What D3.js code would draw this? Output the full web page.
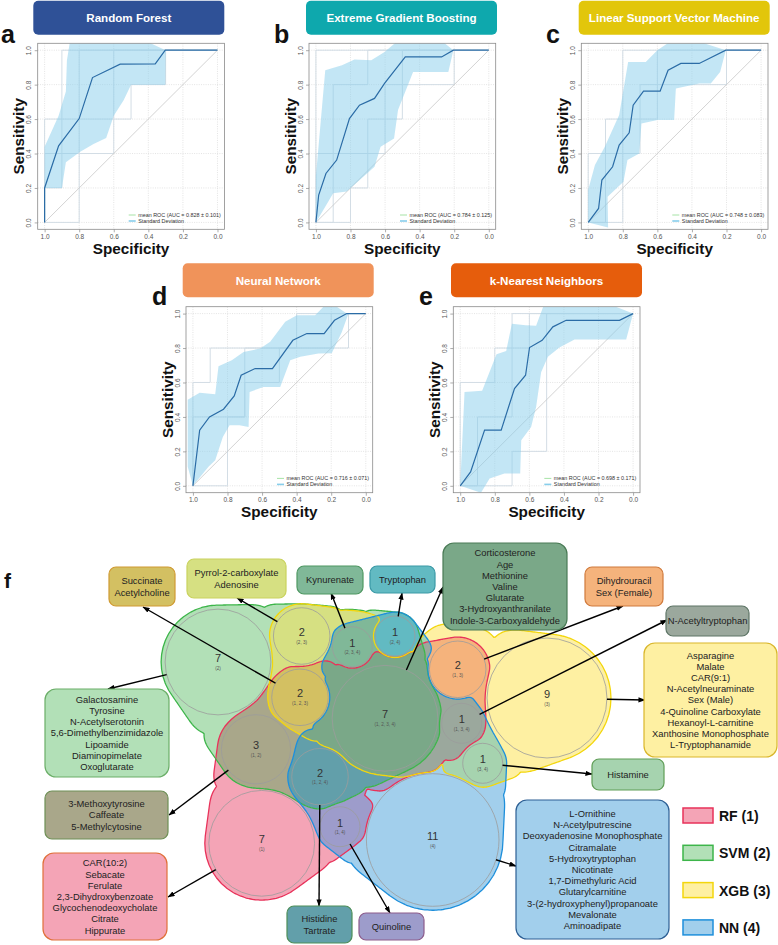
<!DOCTYPE html>
<html>
<head>
<meta charset="utf-8">
<script src="https://cdn.jsdelivr.net/npm/d3@7"></script>
<style>
  body { margin: 0; background: #fff; }
  svg { font-family: "Liberation Sans", Arial, sans-serif; }
</style>
</head>
<body>
<div id="chart"></div>
<script>
// ---------- ROC data (specificity, sensitivity) ----------
const modelNames = ['Random Forest', 'Extreme Gradient Boosting', 'Linear Support Vector Machine', 'Neural Network', 'k-Nearest Neighbors'];
const panelLetters = ['a', 'b', 'c', 'd', 'e'];
const aucLabels = ['0.828 ± 0.101', '0.784 ± 0.125', '0.748 ± 0.083', '0.716 ± 0.071', '0.698 ± 0.171'];
const axisTicks = [1.0, 0.8, 0.6, 0.4, 0.2, 0.0];

const rfMean = [[1,0],[1,0.2],[0.919,0.445],[0.80,0.603],[0.723,0.841],[0.563,0.919],[0.36,0.92],[0.302,1],[0,1]];
const rfUpper = [[1,0.44],[0.919,0.62],[0.877,0.76],[0.871,0.94],[0.852,1.06],[0.43,1.06],[0.30,1],[0,1]];
const rfLower = [[1,0],[1,0.2],[0.9,0.2],[0.877,0.35],[0.794,0.41],[0.717,0.455],[0.644,0.49],[0.60,0.62],[0.543,0.71],[0.50,0.80],[0.302,0.80],[0.30,1],[0,1]];
const rfFolds = [
  [[1,0],[1,0.2],[0.9,0.2],[0.9,1],[0,1]],
  [[1,0],[1,0.6],[0.5,0.6],[0.5,0.8],[0.3,0.8],[0.3,1],[0,1]],
  [[1,0],[1,0.4],[0.6,0.4],[0.6,1],[0,1]],
  [[1,0],[0.8,0],[0.8,1],[0,1]]
];

const xgbMean = [[1,0],[0.984,0.159],[0.942,0.284],[0.880,0.362],[0.806,0.603],[0.748,0.681],[0.661,0.72],[0.603,0.807],[0.483,0.961],[0.273,0.961],[0.205,1],[0,1]];
const xgbUpper = [[1,0.27],[0.946,0.884],[0.849,0.913],[0.777,0.946],[0.68,0.942],[0.603,0.99],[0.52,1.06],[0.28,1.06],[0.205,1],[0,1]];
const xgbLower = [[1,0],[0.9,0.17],[0.822,0.18],[0.661,0.323],[0.626,0.44],[0.548,0.487],[0.525,0.652],[0.438,0.874],[0.234,0.874],[0.205,1],[0,1]];
const xgbFolds = [
  [[1,0],[0.9,0],[0.9,0.8],[0.7,0.8],[0.7,1],[0,1]],
  [[1,0],[1,0.4],[0.6,0.4],[0.6,0.6],[0.5,0.6],[0.5,1],[0,1]],
  [[1,0],[0.8,0],[0.8,0.2],[0.7,0.2],[0.7,0.6],[0.6,0.6],[0.6,0.8],[0.2,0.8],[0.2,1],[0,1]],
  [[1,0],[1,1],[0,1]]
];

const svmMean = [[1,0],[0.94,0.081],[0.921,0.246],[0.859,0.323],[0.821,0.449],[0.763,0.52],[0.74,0.681],[0.68,0.762],[0.584,0.762],[0.538,0.884],[0.464,0.923],[0.358,0.923],[0.204,1],[0,1]];
const svmUpper = [[1,0.19],[0.961,0.333],[0.904,0.44],[0.821,0.623],[0.769,0.932],[0.667,0.932],[0.6,1],[0.54,1.04],[0.33,1.04],[0.204,1],[0,1]];
const svmLower = [[1,0],[0.885,-0.03],[0.888,0.149],[0.796,0.236],[0.773,0.362],[0.705,0.40],[0.692,0.574],[0.6,0.594],[0.503,0.594],[0.493,0.778],[0.358,0.807],[0.291,0.807],[0.237,0.874],[0.204,1],[0,1]];
const svmFolds = [
  [[1,0],[0.9,0],[0.9,0.6],[0.6,0.6],[0.6,1],[0,1]],
  [[1,0],[1,0.4],[0.7,0.4],[0.7,0.8],[0.2,0.8],[0.2,1],[0,1]],
  [[1,0],[0.8,0],[0.8,1],[0,1]]
];

const nnMean = [[1,0],[0.961,0.323],[0.904,0.40],[0.823,0.445],[0.761,0.522],[0.721,0.642],[0.64,0.681],[0.54,0.681],[0.422,0.845],[0.341,0.884],[0.241,0.884],[0.181,0.961],[0.11,1],[0,1]];
const nnUpper = [[1.03,0.5],[0.961,0.541],[0.871,0.532],[0.852,0.694],[0.775,0.729],[0.707,0.777],[0.611,0.797],[0.553,0.836],[0.466,0.952],[0.399,0.99],[0.293,0.99],[0.245,1.04],[0.168,1.04],[0.11,1],[0,1]];
const nnLower = [[1.03,0.11],[1,0],[0.91,0.11],[0.871,0.149],[0.827,0.284],[0.788,0.352],[0.73,0.352],[0.678,0.342],[0.672,0.545],[0.592,0.574],[0.495,0.574],[0.437,0.729],[0.379,0.749],[0.274,0.768],[0.197,0.77],[0.139,0.892],[0.1,1],[0,1]];
const nnFolds = [
  [[1,0],[1,0.6],[0.9,0.6],[0.9,0.8],[0.4,0.8],[0.4,1],[0,1]],
  [[1,0],[1,0.4],[0.7,0.4],[0.7,0.6],[0.5,0.6],[0.5,0.8],[0.1,0.8],[0.1,1],[0,1]],
  [[1,0],[0.8,0],[0.8,0.4],[0.7,0.4],[0.7,0.8],[0.2,0.8],[0.2,1],[0,1]]
];

const knnMean = [[1,0],[0.94,0.081],[0.859,0.323],[0.763,0.323],[0.686,0.565],[0.622,0.642],[0.599,0.803],[0.526,0.845],[0.464,0.923],[0.387,0.961],[0.079,0.961],[0,1]];
const knnUpper = [[1,0],[0.975,0.545],[0.873,0.552],[0.79,0.764],[0.734,0.783],[0.701,0.941],[0.622,0.932],[0.561,0.93],[0.52,1.04],[0.10,1.04],[0,1]];
const knnLower = [[1,0],[0.88,-0.04],[0.83,0.043],[0.744,0.072],[0.653,0.072],[0.647,0.265],[0.59,0.342],[0.561,0.458],[0.532,0.66],[0.493,0.749],[0.426,0.803],[0.339,0.849],[0.04,0.849],[0,1]];
const knnFolds = [
  [[1,0],[0.9,0],[0.9,0.4],[0.7,0.4],[0.7,1],[0,1]],
  [[1,0],[1,0.6],[0.8,0.6],[0.8,0.8],[0.6,0.8],[0.6,1],[0,1]],
  [[1,0],[0.7,0],[0.7,0.2],[0.5,0.2],[0.5,1],[0,1]]
];

// ---------- Venn data ----------
const setNames = ['RF (1)', 'SVM (2)', 'XGB (3)', 'NN (4)'];
const vennCombos = ['1', '2', '3', '4', '1, 2', '1, 3', '1, 4', '2, 3', '2, 4', '3, 4', '1, 2, 3', '1, 2, 4', '1, 3, 4', '2, 3, 4', '1, 2, 3, 4'];
const metabolites = {
  '1': ['CAR(10:2)', 'Sebacate', 'Ferulate', '2,3-Dihydroxybenzoate', 'Glycochenodeoxycholate', 'Citrate', 'Hippurate'],
  '2': ['Galactosamine', 'Tyrosine', 'N-Acetylserotonin', '5,6-Dimethylbenzimidazole', 'Lipoamide', 'Diaminopimelate', 'Oxoglutarate'],
  '3': ['Asparagine', 'Malate', 'CAR(9:1)', 'N-Acetylneuraminate', 'Sex (Male)', '4-Quinoline Carboxylate', 'Hexanoyl-L-carnitine', 'Xanthosine Monophosphate', 'L-Tryptophanamide'],
  '4': ['L-Ornithine', 'N-Acetylputrescine', 'Deoxyadenosine Monophosphate', 'Citramalate', '5-Hydroxytryptophan', 'Nicotinate', '1,7-Dimethyluric Acid', 'Glutarylcarnitine', '3-(2-hydroxyphenyl)propanoate', 'Mevalonate', 'Aminoadipate'],
  '1, 2': ['3-Methoxytyrosine', 'Caffeate', '5-Methylcytosine'],
  '1, 3': ['Dihydrouracil', 'Sex (Female)'],
  '1, 4': ['Quinoline'],
  '2, 3': ['Pyrrol-2-carboxylate', 'Adenosine'],
  '2, 4': ['Tryptophan'],
  '3, 4': ['Histamine'],
  '1, 2, 3': ['Succinate', 'Acetylcholine'],
  '1, 2, 4': ['Histidine', 'Tartrate'],
  '1, 3, 4': ['N-Acetyltryptophan'],
  '2, 3, 4': ['Kynurenate'],
  '1, 2, 3, 4': ['Corticosterone', 'Age', 'Methionine', 'Valine', 'Glutarate', '3-Hydroxyanthranilate', 'Indole-3-Carboxyaldehyde']
};

// ---------- layout & style ----------
const W = 778, H = 945;
const BW = 186.7, BH = 186;
const panelLayout = [
  { bx: 37.7, by: 43.3, tx: 33.3, ty: 0.7, lx: 1, ly: 43 },
  { bx: 309, by: 43.3, tx: 306, ty: 0.7, lx: 274, ly: 43 },
  { bx: 581.3, by: 43.3, tx: 578.7, ty: 0.7, lx: 546, ly: 43 },
  { bx: 186, by: 306.7, tx: 182.7, ty: 263.3, lx: 152, ly: 305 },
  { bx: 453.3, by: 306.7, tx: 451, ty: 263.3, lx: 419, ly: 305 }
];
const titleColors = ['#2F5197', '#0EA8AD', '#E2C60B', '#F0935A', '#E65D0C'];

// circle centres and boxes in venn-local units
const vennLayout = {
  '1': [121.7, 263.3], '2': [78, 82], '3': [407, 118], '4': [292.7, 260],
  '1, 2': [116, 169.3], '1, 3': [317.7, 89.3], '1, 4': [200, 246.7],
  '2, 3': [161.7, 56], '2, 4': [255, 56], '3, 4': [342.7, 183.3],
  '1, 2, 3': [160, 117.3], '1, 2, 4': [180, 196.7], '1, 3, 4': [321.7, 143.3],
  '2, 3, 4': [212.3, 66.7], '1, 2, 3, 4': [245, 138.3]
};
// [x, y, w, h, arrowX, arrowY]
const boxLayout = {
  '1, 2, 3': [-31, -13, 66, 39, 3, 27],
  '2, 3': [47, -21, 99, 39, 97, 18],
  '2, 3, 4': [157, -14, 66, 28, 191, 13],
  '2, 4': [230, -14, 65, 27, 262, 13],
  '1, 2, 3, 4': [303, -37, 124, 87, 303, 7],
  '1, 3': [445, -13, 78, 39, 483, 26],
  '1, 3, 4': [526, 26, 83, 30, 527, 40],
  '3': [504, 63, 133, 114, 505, 120],
  '2': [-95, 109, 124, 88, -32, 109],
  '1, 2': [-95, 211, 123, 48, 29, 235],
  '1': [-97, 273, 124, 87, 28, 317],
  '1, 2, 4': [147, 326, 65, 37, 179, 326],
  '1, 4': [219, 333, 65, 27, 250, 333],
  '3, 4': [452, 179, 72, 31, 452, 194],
  '4': [376, 220, 153, 139, 376, 286]
};
const comboFill = {
  '1': '#F4A4B6', '2': '#B2E0B7', '3': '#FEF0A2', '4': '#A2CFEC',
  '1, 2': '#A9A78A', '1, 3': '#F5B37C', '1, 4': '#9D9CCB', '2, 3': '#D6E082',
  '2, 4': '#62BAC2', '3, 4': '#A6D3AF', '1, 2, 3': '#D3C062', '1, 2, 4': '#629FAA',
  '1, 3, 4': '#9BA89D', '2, 3, 4': '#80B898', '1, 2, 3, 4': '#7AA888'
};
const boxStroke = {
  '1': '#E0703A', '2': '#6BAE68', '3': '#D9B62B', '4': '#2D5F94',
  '1, 2': '#6E9056', '1, 3': '#D07A3C', '1, 4': '#8D5C8C', '2, 3': '#C9D25E',
  '2, 4': '#3A99A6', '3, 4': '#5F9D56', '1, 2, 3': '#D09A32', '1, 2, 4': '#4E8F59',
  '1, 3, 4': '#5E7566', '2, 3, 4': '#4F9862', '1, 2, 3, 4': '#4A7B56'
};
const setStroke = ['#E8325A', '#3DB54A', '#F3D60C', '#1E8FDB'];
const setFill = ['#F4A4B6', '#B2E0B7', '#FEF0A2', '#A2CFEC'];

const svg = d3.select('#chart').append('svg').attr('width', W).attr('height', H);

// ---------- ROC panels ----------
const models = [
  { mean: rfMean, upper: rfUpper, lower: rfLower, folds: rfFolds },
  { mean: xgbMean, upper: xgbUpper, lower: xgbLower, folds: xgbFolds },
  { mean: svmMean, upper: svmUpper, lower: svmLower, folds: svmFolds },
  { mean: nnMean, upper: nnUpper, lower: nnLower, folds: nnFolds },
  { mean: knnMean, upper: knnUpper, lower: knnLower, folds: knnFolds }
];

models.forEach((m, i) => {
  const p = panelLayout[i];
  const g = svg.append('g');
  const x = d3.scaleLinear().domain([1.04, -0.04]).range([p.bx, p.bx + BW]);
  const y = d3.scaleLinear().domain([-0.04, 1.04]).range([p.by + BH, p.by]);
  const line = d3.line().x(d => x(d[0])).y(d => y(d[1]));

  // title box
  g.append('rect').attr('x', p.tx).attr('y', p.ty).attr('width', 191).attr('height', 34)
    .attr('rx', 5).attr('fill', titleColors[i]);
  g.append('text').attr('x', p.tx + 95.5).attr('y', p.ty + 21.3).attr('text-anchor', 'middle')
    .attr('fill', '#fff').attr('font-weight', 'bold').attr('font-size', 11.6).text(modelNames[i]);
  g.append('text').attr('x', p.lx).attr('y', p.ly).attr('font-weight', 'bold')
    .attr('font-size', 25).attr('fill', '#111').text(panelLetters[i]);

  const clipId = 'clip' + i;
  g.append('clipPath').attr('id', clipId).append('rect')
    .attr('x', p.bx).attr('y', p.by).attr('width', BW).attr('height', BH);
  const inner = g.append('g').attr('clip-path', `url(#${clipId})`);

  // dotted grid
  inner.selectAll('.gx').data(axisTicks).join('line')
    .attr('x1', d => x(d)).attr('x2', d => x(d)).attr('y1', p.by).attr('y2', p.by + BH)
    .attr('stroke', '#d9d9d9').attr('stroke-width', 0.7).attr('stroke-dasharray', '1,1.3');
  inner.selectAll('.gy').data(axisTicks).join('line')
    .attr('y1', d => y(d)).attr('y2', d => y(d)).attr('x1', p.bx).attr('x2', p.bx + BW)
    .attr('stroke', '#d9d9d9').attr('stroke-width', 0.7).attr('stroke-dasharray', '1,1.3');

  // per-fold curves
  inner.selectAll('.fold').data(m.folds).join('path')
    .attr('d', line).attr('fill', 'none').attr('stroke', '#d3dde5').attr('stroke-width', 1);

  // diagonal
  inner.append('line').attr('x1', x(1)).attr('y1', y(0)).attr('x2', x(0)).attr('y2', y(1))
    .attr('stroke', '#c8c8c8').attr('stroke-width', 0.8);

  // sd band
  const band = m.upper.concat(m.lower.slice().reverse());
  inner.append('path').attr('d', line(band) + 'Z')
    .attr('fill', '#87CEEB').attr('fill-opacity', 0.5);
  inner.append('path').attr('d', line(m.mean)).attr('fill', 'none')
    .attr('stroke', '#2B6CA6').attr('stroke-width', 1.2);

  // box
  g.append('rect').attr('x', p.bx).attr('y', p.by).attr('width', BW).attr('height', BH)
    .attr('fill', 'none').attr('stroke', '#8a8a8a').attr('stroke-width', 0.8);

  // axes
  const ax = g.append('g').attr('transform', `translate(0,${p.by + BH})`)
    .call(d3.axisBottom(x).tickValues(axisTicks).tickFormat(d3.format('.1f')).tickSize(3).tickPadding(2));
  const ay = g.append('g').attr('transform', `translate(${p.bx},0)`)
    .call(d3.axisLeft(y).tickValues(axisTicks).tickFormat(d3.format('.1f')).tickSize(3));
  [ax, ay].forEach(a => {
    a.select('.domain').remove();
    a.selectAll('.tick line').attr('stroke', '#8a8a8a').attr('stroke-width', 0.7);
    a.selectAll('.tick text').attr('font-size', 6.5).attr('fill', '#555')
      .attr('font-family', '"Liberation Sans", Arial, sans-serif');
  });
  ay.selectAll('.tick text').attr('transform', 'rotate(-90)').attr('x', 0).attr('y', -6.5)
    .attr('dy', 0).attr('text-anchor', 'middle');

  g.append('text').attr('transform', `translate(${p.bx - 13.5},${p.by + BH / 2}) rotate(-90)`)
    .attr('text-anchor', 'middle').attr('font-weight', 'bold').attr('font-size', 15.3)
    .attr('fill', '#111').text('Sensitivity');
  g.append('text').attr('x', p.bx + BW / 2).attr('y', p.by + BH + 24.5).attr('text-anchor', 'middle')
    .attr('font-weight', 'bold').attr('font-size', 15.3).attr('fill', '#111').text('Specificity');

  // legend
  const lg = g.append('g').attr('transform', `translate(${p.bx + 91},${p.by + 171.7})`);
  lg.append('line').attr('x1', 0).attr('x2', 7).attr('stroke', '#90DC90').attr('stroke-width', 0.8);
  lg.append('line').attr('x1', 0).attr('x2', 7).attr('y1', 6).attr('y2', 6)
    .attr('stroke', '#87CEEB').attr('stroke-width', 1.6);
  lg.append('text').attr('x', 9.5).attr('y', 1.9).attr('font-size', 5.4).attr('fill', '#333')
    .text('mean ROC (AUC  = ' + aucLabels[i] + ')');
  lg.append('text').attr('x', 9.5).attr('y', 7.9).attr('font-size', 5.4).attr('fill', '#333')
    .text('Standard Deviation');
});

// ---------- Venn diagram ----------
svg.append('text').attr('x', 4).attr('y', 588).attr('font-weight', 'bold').attr('font-size', 21)
  .attr('fill', '#111').text('f');

const vx = d3.scaleLinear().domain([0, 420]).range([140, 560]);
const vy = d3.scaleLinear().domain([0, 340]).range([580, 920]);
const rScale = d3.scaleSqrt().domain([0, 11]).range([0, 66.3]);

const circles = vennCombos.map(c => {
  const sets = c.split(', ').map(Number);
  const n = metabolites[c].length;
  return {
    combo: c, n, mask: d3.sum(sets, s => 1 << (s - 1)),
    cx: vx(vennLayout[c][0]), cy: vy(vennLayout[c][1]), r: rScale(n)
  };
});

// each set region: hull of its circles, kept near them, minus the other circles
const PAD = 4, NEAR = 20;
const setShapes = [0, 1, 2, 3].map(s => {
  const mem = circles.filter(c => c.mask & (1 << s));
  const non = circles.filter(c => !(c.mask & (1 << s)));
  const pts = [];
  mem.forEach(c => d3.range(48).forEach(k => {
    const a = k / 48 * 2 * Math.PI;
    pts.push([c.cx + (c.r + PAD) * Math.cos(a), c.cy + (c.r + PAD) * Math.sin(a)]);
  }));
  return { mem, non, hull: d3.polygonHull(pts) };
});

function segDist(px, py, a, b) {
  const dx = b[0] - a[0], dy = b[1] - a[1];
  let t = ((px - a[0]) * dx + (py - a[1]) * dy) / (dx * dx + dy * dy);
  t = Math.max(0, Math.min(1, t));
  return Math.hypot(px - a[0] - t * dx, py - a[1] - t * dy);
}
function smin(a, b, k) {
  const h = Math.max(k - Math.abs(a - b), 0) / k;
  return Math.min(a, b) - h * h * k * 0.25;
}
function setField(S, px, py) {
  const hp = S.hull;
  let d = Infinity;
  for (let i = 0, j = hp.length - 1; i < hp.length; j = i++) d = Math.min(d, segDist(px, py, hp[j], hp[i]));
  const hull = d3.polygonContains(hp, [px, py]) ? d : -d;
  let near = -Infinity;
  for (const c of S.mem) near = Math.max(near, c.r + NEAR - Math.hypot(px - c.cx, py - c.cy));
  let excl = Infinity;
  for (const c of S.non) excl = Math.min(excl, Math.hypot(px - c.cx, py - c.cy) - c.r - 1.5);
  return smin(smin(hull, near, 8), excl, 5);
}

const step = 1.5, gx0 = 145, gy0 = 592, nx = 320, ny = 222;
const F = setShapes.map(S => {
  const arr = new Float64Array(nx * ny);
  for (let j = 0; j < ny; j++)
    for (let i = 0; i < nx; i++)
      arr[i + j * nx] = setField(S, gx0 + (i + 0.5) * step, gy0 + (j + 0.5) * step);
  return arr;
});

const gsx = d3.scaleLinear().domain([0, nx]).range([gx0, gx0 + nx * step]);
const gsy = d3.scaleLinear().domain([0, ny]).range([gy0, gy0 + ny * step]);
const ringLine = d3.line().x(d => gsx(d[0])).y(d => gsy(d[1]));
const contour = d3.contours().size([nx, ny]).thresholds([0]);
const contourPath = geo => geo.coordinates.map(poly => poly.map(ring => ringLine(ring) + 'Z').join('')).join('');

const venn = svg.append('g');
const fillLayer = venn.append('g');
circles.forEach(c => {
  const v = new Float64Array(nx * ny);
  for (let i = 0; i < v.length; i++) {
    let m = Infinity;
    for (let s = 0; s < 4; s++) m = Math.min(m, (c.mask >> s) & 1 ? F[s][i] : -F[s][i]);
    v[i] = m;
  }
  fillLayer.append('path').attr('d', contourPath(contour(v)[0]))
    .attr('fill', comboFill[c.combo]).attr('fill-rule', 'evenodd');
});

const outlineLayer = venn.append('g');
F.forEach((f, s) => {
  outlineLayer.append('path').attr('d', contourPath(contour(f)[0]))
    .attr('fill', 'none').attr('stroke', setStroke[s]).attr('stroke-width', 1.3);
});

venn.append('g').selectAll('circle').data(circles).join('circle')
  .attr('cx', d => d.cx).attr('cy', d => d.cy).attr('r', d => d.r)
  .attr('fill', 'none').attr('stroke', '#9c9c9c').attr('stroke-width', 0.8);

const labels = venn.append('g').attr('text-anchor', 'middle');
labels.selectAll('.cnt').data(circles).join('text')
  .attr('x', d => d.cx).attr('y', d => d.cy).attr('font-size', 11).attr('fill', '#333')
  .text(d => d.n);
labels.selectAll('.cmb').data(circles).join('text')
  .attr('x', d => d.cx).attr('y', d => d.cy + 7.5).attr('font-size', 4.6).attr('fill', '#555')
  .text(d => '(' + d.combo + ')');

// arrows
svg.append('defs').append('marker').attr('id', 'arrow').attr('viewBox', '0 0 8 6')
  .attr('refX', 7.5).attr('refY', 3).attr('markerWidth', 7).attr('markerHeight', 5.5)
  .attr('markerUnits', 'userSpaceOnUse').attr('orient', 'auto')
  .append('path').attr('d', 'M0,0L8,3L0,6Z').attr('fill', '#000');

const arrows = venn.append('g');
circles.forEach(c => {
  const b = boxLayout[c.combo];
  const tx = vx(b[4]), ty = vy(b[5]);
  const dx = tx - c.cx, dy = ty - c.cy, len = Math.hypot(dx, dy);
  arrows.append('line')
    .attr('x1', c.cx + dx / len * c.r).attr('y1', c.cy + dy / len * c.r)
    .attr('x2', tx).attr('y2', ty)
    .attr('stroke', '#000').attr('stroke-width', 1.4).attr('marker-end', 'url(#arrow)');
});

// metabolite boxes
const boxes = venn.append('g');
circles.forEach(c => {
  const b = boxLayout[c.combo];
  const x0 = vx(b[0]), y0 = vy(b[1]), w = b[2], h = b[3];
  boxes.append('rect').attr('x', x0).attr('y', y0).attr('width', w).attr('height', h)
    .attr('rx', h > 60 ? 11 : 7).attr('fill', comboFill[c.combo])
    .attr('stroke', boxStroke[c.combo]).attr('stroke-width', 1.2);
  const list = metabolites[c.combo];
  const lh = 11.2;
  const first = y0 + h / 2 - (list.length - 1) * lh / 2 + 3.4;
  boxes.append('g').selectAll('text').data(list).join('text')
    .attr('x', x0 + w / 2).attr('y', (d, k) => first + k * lh).attr('text-anchor', 'middle')
    .attr('font-size', 9.4).attr('fill', '#222').text(d => d);
});

// set legend
const leg = svg.append('g').attr('transform', 'translate(683,808)');
setNames.forEach((name, s) => {
  leg.append('rect').attr('x', 0).attr('y', s * 37.3).attr('width', 30).attr('height', 15)
    .attr('fill', setFill[s]).attr('stroke', setStroke[s]).attr('stroke-width', 1.5);
  leg.append('text').attr('x', 36).attr('y', s * 37.3 + 13).attr('font-size', 14)
    .attr('font-weight', 'bold').attr('fill', '#111').text(name);
});
</script>
</body>
</html>
